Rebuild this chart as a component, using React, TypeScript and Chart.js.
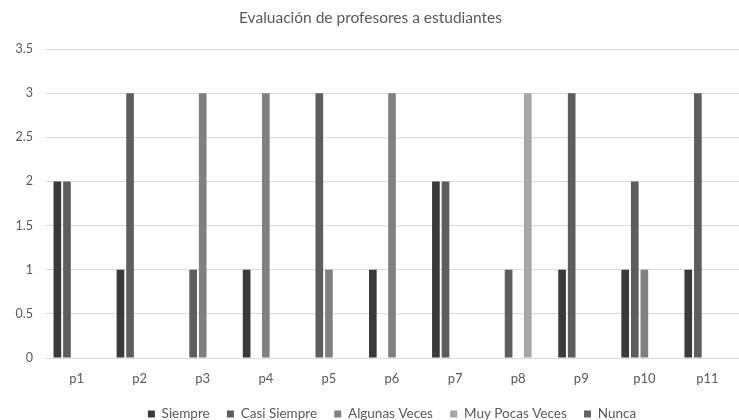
import React, { useEffect, useRef } from "react";
import { Chart, registerables } from "chart.js";

Chart.register(...registerables);

const titleText = "Evaluación de profesores a estudiantes";
const categories = ["p1", "p2", "p3", "p4", "p5", "p6", "p7", "p8", "p9", "p10", "p11"];
const seriesNames = ["Siempre", "Casi Siempre", "Algunas Veces", "Muy Pocas Veces", "Nunca"];
const siempre = [2, 1, 0, 1, 0, 1, 2, 0, 1, 1, 1];
const casiSiempre = [2, 3, 1, 0, 3, 0, 2, 1, 3, 2, 3];
const algunasVeces = [0, 0, 3, 3, 1, 3, 0, 0, 0, 1, 0];
const muyPocasVeces = [0, 0, 0, 0, 0, 0, 0, 3, 0, 0, 0];
const nunca = [0, 0, 0, 0, 0, 0, 0, 0, 0, 0, 0];
const yTickValues = [0, 0.5, 1, 1.5, 2, 2.5, 3, 3.5];
const yTickLabels = ["0", "0.5", "1", "1.5", "2", "2.5", "3", "3.5"];
const seriesColors = ["#3a3a3a", "#5e5e5e", "#808080", "#a6a6a6", "#646464"];

const FONT = "Lato, 'Noto Sans', sans-serif";
const TEXT = "#595959";

export default function App() {
  const ref = useRef<HTMLCanvasElement | null>(null);

  useEffect(() => {
    document.body.style.margin = "0";
    const canvas = ref.current;
    if (!canvas) return;
    const values = [siempre, casiSiempre, algunasVeces, muyPocasVeces, nunca];
    const chart = new Chart(canvas, {
      type: "bar",
      data: {
        labels: categories,
        datasets: seriesNames.map((name, i) => ({
          label: name,
          data: values[i],
          backgroundColor: seriesColors[i],
          borderWidth: 0,
          categoryPercentage: 0.76,
          barPercentage: 0.8,
        })),
      },
      options: {
        responsive: false,
        animation: false,
        devicePixelRatio: 1,
        layout: { padding: { top: 0, left: 0, right: -2, bottom: -10.75 } },
        plugins: {
          tooltip: { enabled: false },
          title: {
            display: true,
            text: titleText,
            color: TEXT,
            font: { family: FONT, size: 15.5, weight: "normal" },
            padding: { top: 8.7, bottom: 21.7 },
          },
          legend: {
            position: "bottom",
            fullSize: false,
            labels: {
              color: TEXT,
              font: { family: FONT, size: 13.5 },
              boxWidth: 7,
              boxHeight: 7,
              padding: 17.25,
            },
          },
        },
        scales: {
          x: {
            grid: { display: false, drawTicks: false },
            border: { display: false },
            ticks: { color: TEXT, font: { family: FONT, size: 13 }, padding: 13 },
            afterFit: (scale: any) => {
              scale.height = 32;
            },
          },
          y: {
            min: 0,
            max: 3.5,
            afterBuildTicks: (scale: any) => {
              scale.ticks = yTickValues.map((v) => ({ value: v }));
            },
            grid: { color: "#d9d9d9", lineWidth: 1, drawTicks: false },
            border: { display: false },
            ticks: {
              color: TEXT,
              font: { family: FONT, size: 12.5 },
              padding: 12,
              callback: (_v: any, i: number) => yTickLabels[i],
            },
            afterFit: (scale: any) => {
              scale.width = 45;
            },
          },
        },
      },
    });
    return () => chart.destroy();
  }, []);

  return (
    <div style={{ width: 739, height: 420 }}>
      <canvas ref={ref} width={739} height={420} />
    </div>
  );
}
